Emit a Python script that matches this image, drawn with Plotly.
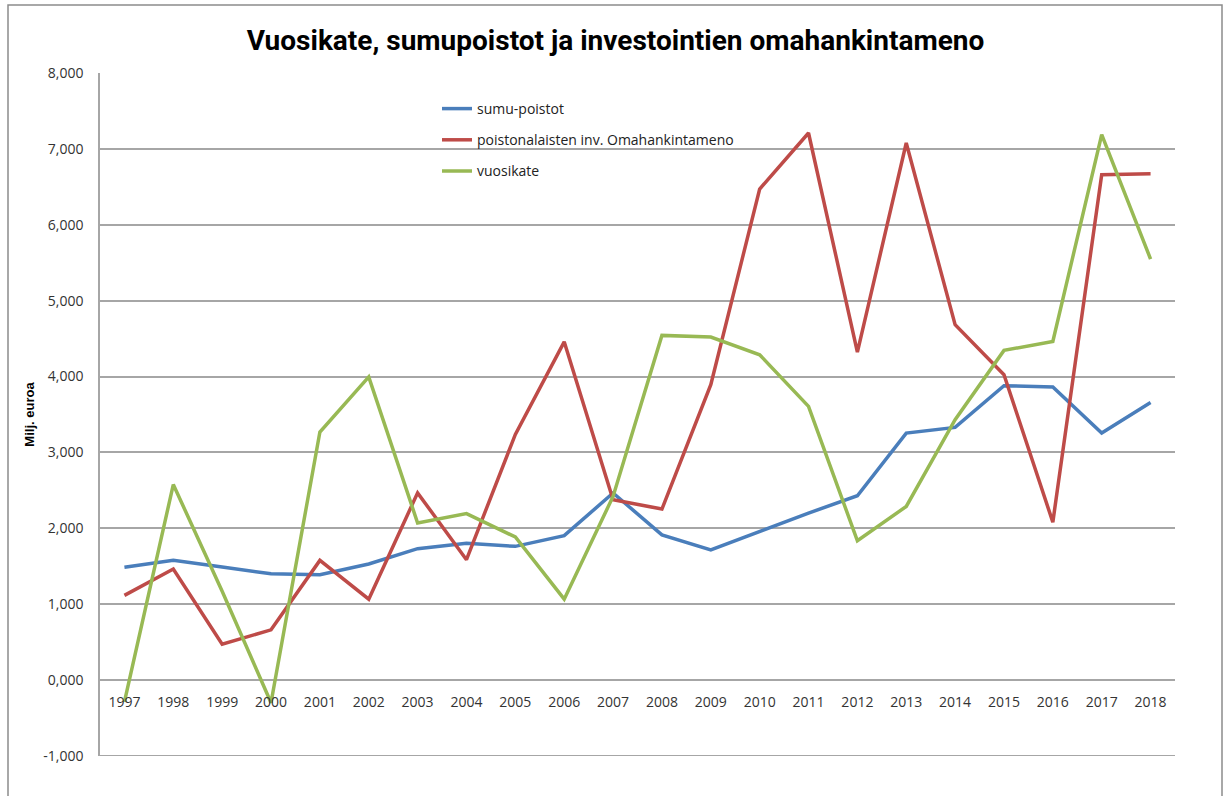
import plotly.graph_objects as go

years = [str(y) for y in range(1997, 2019)]

sumu_poistot = [1485, 1577, 1489, 1401, 1388, 1529, 1731, 1802, 1762, 1903, 2465,
                1914, 1716, 1958, 2200, 2429, 3255, 3330, 3879, 3862, 3255, 3659]
omahankintameno = [1115, 1463, 471, 661, 1577, 1066, 2467, 1586, 3238, 4458, 2377,
                   2253, 3892, 6473, 7211, 4323, 7079, 4684, 4024, 2081, 6662, 6675]
vuosikate = [-290, 2577, 1170, -300, 3269, 3996, 2070, 2194, 1885, 1066, 2420,
             4543, 4521, 4288, 3607, 1835, 2288, 3431, 4345, 4464, 7189, 5549]

series_names = ["sumu-poistot", "poistonalaisten inv. Omahankintameno", "vuosikate"]
series_colors = ["#4A7EBB", "#BE4B48", "#98B954"]

y_tickvals = [-1000, 0, 1000, 2000, 3000, 4000, 5000, 6000, 7000, 8000]
y_ticktext = ["-1,000", "0,000", "1,000", "2,000", "3,000", "4,000", "5,000", "6,000", "7,000", "8,000"]

title_text = "Vuosikate, sumupoistot ja investointien omahankintameno"
y_title = "Milj. euroa"

W, H = 1231, 796
L, R, T, B = 100, 56, 73, 40
ymin, ymax = -1002, 8002

fig = go.Figure()
for i, (name, vals, col) in enumerate(zip(series_names, [sumu_poistot, omahankintameno, vuosikate], series_colors)):
    fig.add_trace(go.Scatter(
        x=years, y=vals, mode="lines", name=name,
        line=dict(color=col, width=3.5),
        legendgroup=f"g{i}",
    ))

plot_w = W - L - R
plot_h = H - T - B

def px_x(p):
    return (p - L) / plot_w

def px_y(p):
    return (H - B - p) / plot_h

fig.update_layout(
    width=W, height=H,
    margin=dict(l=L, r=R, t=T, b=B, autoexpand=False),
    paper_bgcolor="white", plot_bgcolor="white",
    title=dict(text=f"<b>{title_text}</b>", x=0.5, xanchor="center", y=1 - 40 / H, yanchor="middle",
               font=dict(family="Liberation Sans Narrow, Roboto, sans-serif", size=28, color="#000000")),
    showlegend=True,
    legend=dict(x=px_x(437), y=px_y(93), xanchor="left", yanchor="top",
                bgcolor="rgba(0,0,0,0)", traceorder="grouped", tracegroupgap=10,
                font=dict(family="Open Sans, sans-serif", size=14, color="#222222"),
                itemwidth=30),
    xaxis=dict(
        type="category", range=[-0.5, 21.5], automargin=False,
        showgrid=False, zeroline=False, showline=False,
        anchor="free", position=(0 - ymin) / (ymax - ymin),
        ticks="", tickfont=dict(family="Open Sans, sans-serif", size=14, color="#333333"),
        ticklabelstandoff=12,
    ),
    yaxis=dict(
        range=[ymin, ymax], tickvals=y_tickvals, ticktext=y_ticktext, automargin=False,
        showgrid=True, gridcolor="#A6A6A6", gridwidth=1.5,
        zeroline=False, showline=True, linecolor="#A6A6A6", linewidth=1.5,
        ticks="", tickfont=dict(family="Open Sans, sans-serif", size=14, color="#333333"),
        ticklabelstandoff=12,
        title=dict(text=f"<b>{y_title}</b>", standoff=6,
                   font=dict(family="Liberation Sans, Arial, sans-serif", size=13, color="#000000")),
    ),
    shapes=[
        dict(type="rect", xref="paper", yref="paper",
             x0=px_x(8), x1=px_x(1222), y0=px_y(800), y1=px_y(5),
             line=dict(color="#8C8C8C", width=1.5), fillcolor="rgba(0,0,0,0)", layer="above"),
        dict(type="line", xref="paper", yref="y", x0=0, x1=1, y0=y_tickvals[0], y1=y_tickvals[0],
             line=dict(color="#A6A6A6", width=1.5), layer="below"),
    ],
)

fig.write_html("out.html", config={"displayModeBar": False},
               post_script="document.body.style.margin='0';document.body.style.overflow='hidden';")
